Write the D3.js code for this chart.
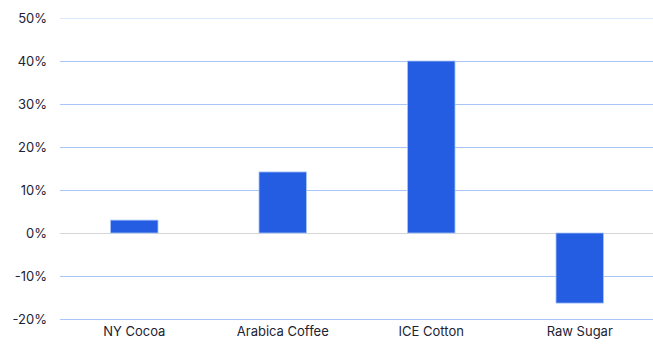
<!DOCTYPE html>
<html><head><meta charset="utf-8">
<script src="https://cdn.jsdelivr.net/npm/d3@7"></script>
<style>body{margin:0;background:#fff;}svg{display:block;font-family:Inter,"Noto Sans",sans-serif;}</style>
</head><body><svg id="c" width="653" height="346"></svg>
<script>
const categories = ["NY Cocoa","Arabica Coffee","ICE Cotton","Raw Sugar"];
const values = [3.0, 14.2, 40.0, -16.3];
const yTicks = [-20,-10,0,10,20,30,40,50];

const svg = d3.select("#c");
const x = d3.scaleBand().domain(categories).range([60,654]).paddingInner(0.68).paddingOuter(0.34);
const y = d3.scaleLinear().domain([-20,50]).range([319,18]);

// gridlines
svg.append("g").selectAll("line").data(yTicks).join("line")
  .attr("x1",60).attr("x2",653)
  .attr("y1",d=>Math.round(y(d))+0.5).attr("y2",d=>Math.round(y(d))+0.5)
  .attr("stroke",d=>d===0?"#d6d6d6":(d===50?"#dbe7fd":"#a9c6fa"))
  .attr("stroke-width",1);

// y labels
const yAxis = d3.axisLeft(y).tickValues(yTicks).tickFormat(d=>d+"%").tickSize(0).tickPadding(0);
const ya = svg.append("g").attr("transform","translate(47,0)").call(yAxis);
ya.select(".domain").remove();
ya.selectAll("text").attr("fill","#1c2333").style("font-size","13px").style("font-family","Inter,'Noto Sans',sans-serif");

// bars
svg.append("g").selectAll("rect").data(values).join("rect")
  .attr("x",(d,i)=>x(categories[i]))
  .attr("width",x.bandwidth())
  .attr("y",d=>y(Math.max(0,d)))
  .attr("height",d=>Math.abs(y(d)-y(0)))
  .attr("fill","#245de1")
  .attr("stroke","#a9c6fa").attr("stroke-width",0.8);

// x labels
const xAxis = d3.axisBottom(x).tickSize(0).tickPadding(0);
const xa = svg.append("g").attr("transform","translate(0,327)").call(xAxis);
xa.select(".domain").remove();
xa.selectAll("text").attr("fill","#1c2333").style("font-size","13px").style("font-family","Inter,'Noto Sans',sans-serif");
</script></body></html>
